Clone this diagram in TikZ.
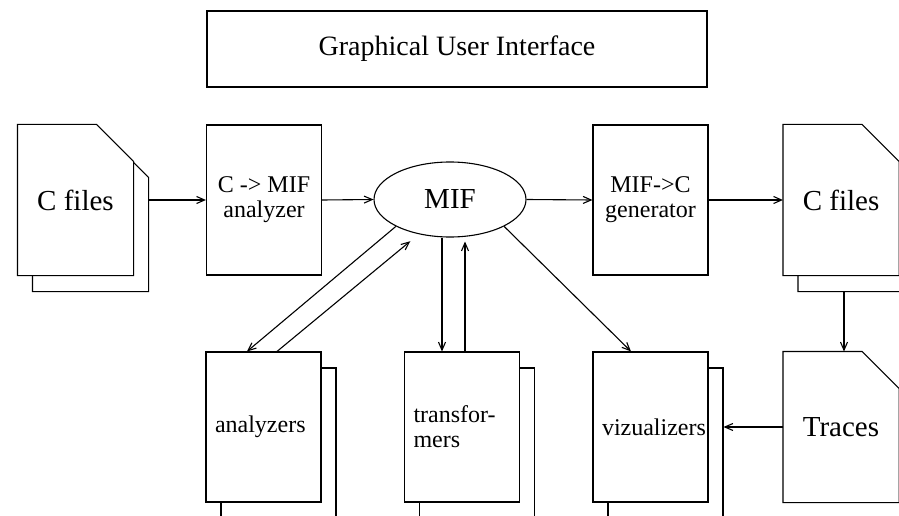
\documentclass[tikz,border=0pt]{standalone}
\usepackage{fontspec}
\setmainfont{Liberation Serif}
\usetikzlibrary{arrows.meta,shapes.geometric,shadows,backgrounds}

% one page with its upper right corner folded off, moved by #2
\newcommand{\pagesheet}[2]{%
    \draw [fill = white, line width = 1.1pt]
        ([shift = {#2}]#1.north west) -- ([shift = {#2}, xshift = -37pt]#1.north east)
        -- ([shift = {#2}, yshift = -37pt]#1.north east) -- ([shift = {#2}]#1.south east)
        -- ([shift = {#2}]#1.south west) -- cycle;
}

\begin{document}
\begin{tikzpicture}[
        x = 1pt, y = -1pt,
        line width = 1.1pt,
        >= {Straight Barb[length = 8pt, width = 7pt]},
        sheet/.style = {minimum width = 115pt, minimum height = 150pt, inner sep = 0pt,
            font = \fontsize{24}{25}\selectfont, align = center},
        box/.style = {sheet, draw, fill = white},
        stack/.style = {box, copy shadow = {shadow xshift = 15pt, shadow yshift = -16pt, draw, fill = white}},
        tool/.style = {stack, text width = 97pt, align = left},
        page/.style = {sheet, font = \fontsize{29}{30}\selectfont},
    ]
    \useasboundingbox (0, 0) rectangle (899, 516);

    \node [draw, minimum width = 500pt, minimum height = 76pt, font = \fontsize{28}{30}\selectfont]
        (gui) at (457, 49) {Graphical User Interface};

    % top row
    \node [page] (cin) at (75.5, 200) {C files};
    \node [box] (ana) at (264, 200) {C -> MIF\\analyzer};
    \node [draw, ellipse, minimum width = 152pt, minimum height = 75pt, inner sep = 0pt,
        font = \fontsize{29}{30}\selectfont] (mif) at (450, 199.5) {MIF};
    \node [box] (gen) at (650.5, 200) {MIF->C\\generator};
    \node [page] (cout) at (841, 200) {C files};

    % bottom row
    \node [tool] (anas) at (263.5, 427) {analyzers};
    \node [tool] (trans) at (462, 427) {transfor-\\mers};
    \node [tool] (viz) at (650.5, 427) {vizualizers};
    \node [page] (traces) at (841, 427) {Traces};

    \begin{scope}[on background layer]
        \pagesheet{cin}{(15, 16)}
        \pagesheet{cin}{(0, 0)}
        \pagesheet{cout}{(15, 16)}
        \pagesheet{cout}{(0, 0)}
        \pagesheet{traces}{(0, 0)}
    \end{scope}

    \draw [->] ([xshift = 15pt]cin.east) -- (ana.west);
    \draw [->] (ana.east) -- (mif.west);
    \draw [->] (mif.east) -- (gen.west);
    \draw [->] (gen.east) -- (cout.west);
    \draw [->] ([shift = {(3, 16)}]cout.south) -- ([xshift = 3pt]traces.north);
    \draw [->] (traces.west) -- ([xshift = 15pt]viz.east);

    \draw [->] (mif.south west) -- ([xshift = -16.5pt]anas.north);
    \draw [->, shorten > = 11pt] ([xshift = 13.5pt]anas.north) -- (mif.-132);
    \draw [->] ([xshift = -8pt]mif.south) -- ([xshift = -20pt]trans.north);
    \draw [->] ([xshift = 3pt]trans.north) -- ([shift = {(15, 4)}]mif.south);
    \draw [->] (mif.south east) -- ([xshift = -19.5pt]viz.north);
\end{tikzpicture}
\end{document}
